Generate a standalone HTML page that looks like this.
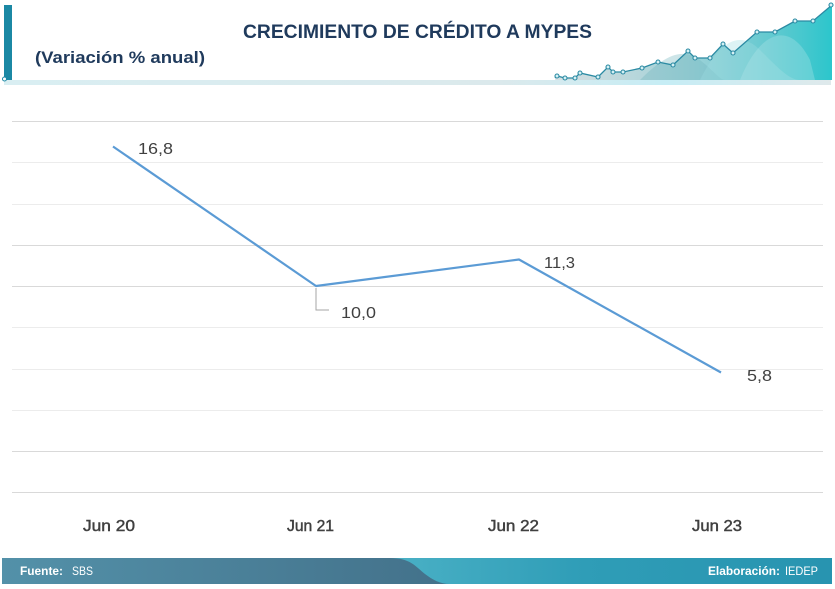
<!DOCTYPE html>
<html><head><meta charset="utf-8"><style>
html,body{margin:0;padding:0;background:#fff;}
svg{display:block;}
</style></head><body>
<svg width="835" height="589" viewBox="0 0 835 589" xmlns="http://www.w3.org/2000/svg" font-family="Liberation Sans, sans-serif">
<defs>
<linearGradient id="hl" x1="0" x2="1" y1="0" y2="0">
<stop offset="0" stop-color="#2a8ba3"/><stop offset="0.45" stop-color="#5b5a6a"/><stop offset="0.75" stop-color="#8a3f4c"/><stop offset="1" stop-color="#7f8e95"/></linearGradient>
<linearGradient id="band" x1="0" x2="1" y1="0" y2="0">
<stop offset="0" stop-color="#d9eef2"/><stop offset="0.6" stop-color="#dbe9ec"/><stop offset="0.8" stop-color="#c6edf5"/><stop offset="1" stop-color="#dfe9eb"/></linearGradient>
<linearGradient id="mt" x1="0" x2="1" y1="0" y2="0">
<stop offset="0" stop-color="#8aa5ad" stop-opacity="0.35"/><stop offset="0.5" stop-color="#58b4be" stop-opacity="0.6"/><stop offset="1" stop-color="#2cc6cc" stop-opacity="1"/></linearGradient>
<linearGradient id="fl" x1="0" x2="1" y1="0" y2="0">
<stop offset="0" stop-color="#5391a9"/><stop offset="1" stop-color="#43718a"/></linearGradient>
<linearGradient id="fr" x1="0" x2="1" y1="0" y2="0">
<stop offset="0" stop-color="#80d8e2"/><stop offset="0.7" stop-color="#2f9db7"/><stop offset="1" stop-color="#2894b0"/></linearGradient>
</defs>

<!-- header -->
<rect x="4" y="5" width="8" height="75" fill="#1b88a4"/>
<line x1="4" y1="79" x2="560" y2="79" stroke="url(#hl)" stroke-width="1.8"/>
<rect x="4" y="80" width="827" height="5" fill="url(#band)"/>
<circle cx="4.5" cy="79" r="2" fill="#fff" stroke="#1b88a4" stroke-width="1"/>

<polygon points="555,80 557,76 565,78 575,78 580,73 598,77 608,67 613,72 623,72 642,68 658,62 673,65 688,51 695,58 710,58 723,44 733,53 757,32 775,32 795,21 813,21 832,5 832,80" fill="url(#mt)"/>
<path d="M640,80 C660,60 680,45 700,60 C715,72 720,80 725,80 Z" fill="#6fb5bd" opacity="0.35"/>
<path d="M700,80 C720,40 740,30 760,50 C780,70 790,80 800,80 Z" fill="#9fdde3" opacity="0.35"/>
<path d="M740,80 C760,30 790,20 810,60 L815,80 Z" fill="#b8e8ec" opacity="0.3"/>
<polyline points="555,78 557,76 565,78 575,78 580,73 598,77 608,67 613,72 623,72 642,68 658,62 673,65 688,51 695,58 710,58 723,44 733,53 757,32 775,32 795,21 813,21 832,5" fill="none" stroke="#2b8aa3" stroke-width="1.3"/>
<g fill="#d6f1f5" stroke="#2b8aa3" stroke-width="1.1">
<circle cx="557" cy="76" r="2"/><circle cx="565" cy="78" r="2"/><circle cx="575" cy="78" r="2"/><circle cx="580" cy="73" r="2"/><circle cx="598" cy="77" r="2"/><circle cx="608" cy="67" r="2"/><circle cx="613" cy="72" r="2"/><circle cx="623" cy="72" r="2"/><circle cx="642" cy="68" r="2"/><circle cx="658" cy="62" r="2"/><circle cx="673" cy="65" r="2"/><circle cx="688" cy="51" r="2"/><circle cx="695" cy="58" r="2"/><circle cx="710" cy="58" r="2"/><circle cx="723" cy="44" r="2"/><circle cx="733" cy="53" r="2"/><circle cx="757" cy="32" r="2"/><circle cx="775" cy="32" r="2"/><circle cx="795" cy="21" r="2"/><circle cx="813" cy="21" r="2"/><circle cx="831" cy="5" r="2"/>
</g>

<text x="243" y="38" font-size="19" font-weight="bold" fill="#1f3a5c" textLength="349" lengthAdjust="spacingAndGlyphs">CRECIMIENTO DE CRÉDITO A MYPES</text>
<text x="35" y="63" font-size="17" font-weight="bold" fill="#1f3a5c" textLength="170" lengthAdjust="spacingAndGlyphs">(Variación % anual)</text>

<!-- gridlines -->
<g stroke="#d9d9d9" stroke-width="1">
<line x1="12" y1="121.5" x2="823" y2="121.5"/>
<line x1="12" y1="162.5" x2="823" y2="162.5" stroke="#ececec"/>
<line x1="12" y1="204.5" x2="823" y2="204.5" stroke="#ececec"/>
<line x1="12" y1="245.5" x2="823" y2="245.5"/>
<line x1="12" y1="286.5" x2="823" y2="286.5"/>
<line x1="12" y1="327.5" x2="823" y2="327.5" stroke="#ececec"/>
<line x1="12" y1="369.5" x2="823" y2="369.5" stroke="#ececec"/>
<line x1="12" y1="410.5" x2="823" y2="410.5" stroke="#ececec"/>
<line x1="12" y1="451.5" x2="823" y2="451.5"/>
<line x1="12" y1="492.5" x2="823" y2="492.5"/>
</g>

<!-- leader line -->
<polyline points="316,288 316,310 329,310" fill="none" stroke="#a6a6a6" stroke-width="1"/>

<!-- series -->
<polyline points="113,146.5 316,286 519,259.5 721,372.5" fill="none" stroke="#5b9bd5" stroke-width="2.2" stroke-linejoin="round"/>

<g font-size="16" fill="#404040">
<text x="138" y="154" textLength="35" lengthAdjust="spacingAndGlyphs">16,8</text>
<text x="341" y="318" textLength="35" lengthAdjust="spacingAndGlyphs">10,0</text>
<text x="544" y="268" textLength="31" lengthAdjust="spacingAndGlyphs">11,3</text>
<text x="747" y="381" textLength="25" lengthAdjust="spacingAndGlyphs">5,8</text>
</g>

<g font-size="15.5" fill="#404040" stroke="#404040" stroke-width="0.45">
<text x="83" y="531" textLength="52" lengthAdjust="spacingAndGlyphs">Jun 20</text>
<text x="287" y="531" textLength="47" lengthAdjust="spacingAndGlyphs">Jun 21</text>
<text x="488" y="531" textLength="51" lengthAdjust="spacingAndGlyphs">Jun 22</text>
<text x="692" y="531" textLength="50" lengthAdjust="spacingAndGlyphs">Jun 23</text>
</g>

<!-- footer -->
<rect x="2" y="558" width="830" height="26" fill="url(#fr)"/>
<path d="M2,558 L390,558 C410,558 415,566 425,574 C433,580 440,584 450,584 L2,584 Z" fill="url(#fl)"/>
<text x="20" y="575" font-size="11.5" font-weight="bold" fill="#fff" textLength="43" lengthAdjust="spacingAndGlyphs">Fuente:</text>
<text x="72" y="575" font-size="11.5" fill="#fff" textLength="21" lengthAdjust="spacingAndGlyphs">SBS</text>
<text x="708" y="575" font-size="11.5" font-weight="bold" fill="#fff" textLength="72" lengthAdjust="spacingAndGlyphs">Elaboración:</text>
<text x="785" y="575" font-size="11.5" fill="#fff" textLength="33" lengthAdjust="spacingAndGlyphs">IEDEP</text>
</svg>
</body></html>
